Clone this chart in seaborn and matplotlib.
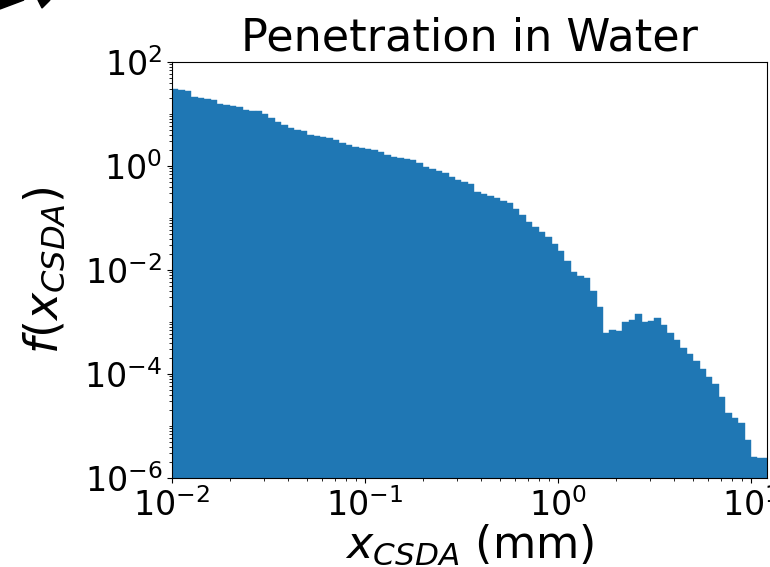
import numpy as np
import pandas as pd
import matplotlib
matplotlib.use("Agg")
import matplotlib.pyplot as plt
import matplotlib.ticker as mticker
from matplotlib.patches import Polygon
import seaborn as sns

# Histogramme de la pénétration (log10 de la densité)
# 30 classes par décade, de 10^-2 à 10^1.1 mm
log_density = [
    1.49, 1.46, 1.44, 1.33, 1.31, 1.28, 1.26, 1.20, 1.18, 1.16,
    1.14, 1.07, 1.06, 1.05, 1.00, 0.93, 0.85, 0.78, 0.74, 0.70,
    0.67, 0.60, 0.58, 0.56, 0.54, 0.50, 0.44, 0.41, 0.37, 0.34,
    0.32, 0.30, 0.26, 0.21, 0.18, 0.16, 0.13, 0.115, 0.06, -0.01,
    -0.05, -0.09, -0.14, -0.21, -0.26, -0.30, -0.35, -0.50, -0.54, -0.58,
    -0.62, -0.67, -0.72, -0.83, -0.95, -1.07, -1.17, -1.26, -1.36, -1.50,
    -1.64, -1.82, -2.03, -2.12, -2.15, -2.40, -2.71, -3.22, -3.15, -3.18,
    -3.00, -2.97, -2.85, -3.00, -2.98, -2.92, -3.05, -3.22, -3.35, -3.50,
    -3.62, -3.75, -3.90, -4.05, -4.20, -4.45, -4.75, -4.85, -4.95, -5.27,
    -5.60, -5.62, -5.62,
]
log_x_min = -2.0
log_x_max = 1.1

title = "Penetration in Water"
xlabel = r"$x_{CSDA}$ (mm)"
ylabel = r"$f(x_{CSDA})$"

n_bins = len(log_density)
edges = 10 ** np.linspace(log_x_min, log_x_max, n_bins + 1)
centers = np.sqrt(edges[:-1] * edges[1:])
df = pd.DataFrame({"x": centers, "f": 10 ** np.array(log_density)})

fig = plt.figure(figsize=(7.7, 5.67), dpi=100)
ax = fig.add_axes([172 / 770, 1 - 478 / 567, (767 - 172) / 770, (478 - 62) / 567])

sns.histplot(data=df, x="x", weights="f", bins=list(edges), stat="count",
             element="bars", color="#1f77b4", alpha=1,
             edgecolor="#1f77b4", linewidth=0.3, ax=ax)

ax.set_xscale("log")
ax.set_yscale("log")
ax.set_xlim(1e-2, 10 ** 1.083)
ax.set_ylim(1e-6, 1e2)
ax.set_yticks([1e-6, 1e-4, 1e-2, 1e0, 1e2])
ax.yaxis.set_minor_locator(mticker.LogLocator(base=10, subs=np.arange(1, 10), numticks=100))
ax.xaxis.set_minor_locator(mticker.LogLocator(base=10, subs=np.arange(2, 10), numticks=100))
ax.yaxis.set_minor_formatter(mticker.NullFormatter())
ax.xaxis.set_minor_formatter(mticker.NullFormatter())

ax.tick_params(axis="both", which="major", labelsize=24)
ax.set_title(title, fontsize=32, pad=8)
ax.set_xlabel(xlabel, fontsize=32, labelpad=0)
ax.set_ylabel(ylabel, fontsize=33, labelpad=12)

# bout de flèche noire coupé en haut à gauche
fig.patches.append(Polygon([(0, 1), (24 / 770, 1), (0, 1 - 9 / 567)],
                           closed=True, transform=fig.transFigure, color="black"))
fig.patches.append(Polygon([(38 / 770, 1), (50 / 770, 1), (42 / 770, 1 - 8 / 567)],
                           closed=True, transform=fig.transFigure, color="black"))

fig.savefig("out.png", dpi=100)
